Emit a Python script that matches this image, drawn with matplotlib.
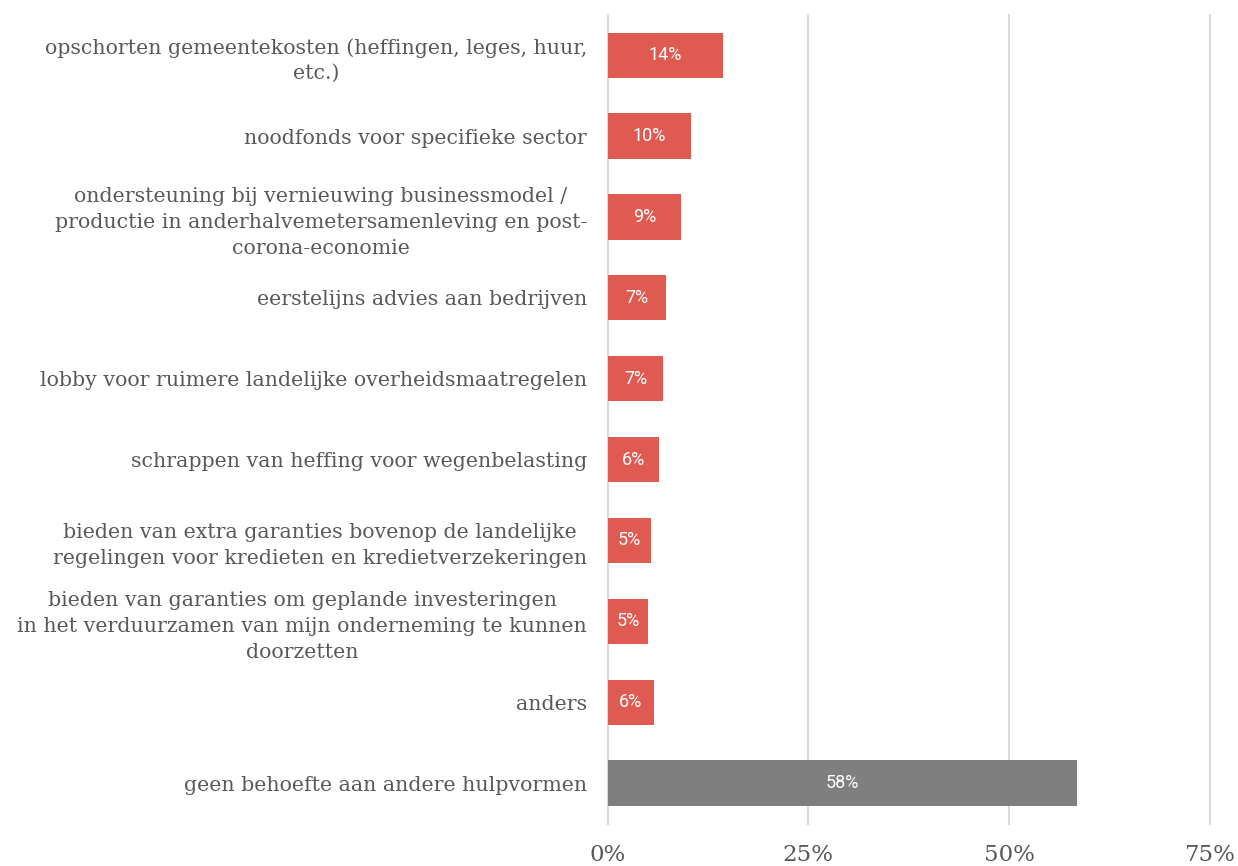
import matplotlib

matplotlib.use("Agg")
import matplotlib.pyplot as plt

categories = [
    "opschorten gemeentekosten (heffingen, leges, huur,\netc.)",
    "noodfonds voor specifieke sector",
    "ondersteuning bij vernieuwing businessmodel /\nproductie in anderhalvemetersamenleving en post-\ncorona-economie",
    "eerstelijns advies aan bedrijven",
    "lobby voor ruimere landelijke overheidsmaatregelen",
    "schrappen van heffing voor wegenbelasting",
    "bieden van extra garanties bovenop de landelijke\nregelingen voor kredieten en kredietverzekeringen",
    "bieden van garanties om geplande investeringen\nin het verduurzamen van mijn onderneming te kunnen\ndoorzetten",
    "anders",
    "geen behoefte aan andere hulpvormen",
]
values = [14.4, 10.4, 9.1, 7.2, 6.9, 6.4, 5.4, 5.0, 5.7, 58.5]
value_labels = ["14%", "10%", "9%", "7%", "7%", "6%", "5%", "5%", "6%", "58%"]
ticks = [0, 25, 50, 75]

RED = "#DF5B51"
GREY = "#7F7F7F"
TEXT = "#595959"

fig = plt.figure(figsize=(12.38, 8.66), dpi=100)
ax = fig.add_axes([0.491, 0.049, 0.486, 0.934])

colors = [RED] * (len(values) - 1) + [GREY]
positions = list(range(len(categories)))
bars = ax.barh(positions, values, height=0.56, color=colors, zorder=3)

for bar, text in zip(bars, value_labels):
    ax.text(
        bar.get_width() / 2,
        bar.get_y() + bar.get_height() / 2,
        text,
        ha="center",
        va="center",
        color="white",
        fontsize=13,
        family="Roboto",
        zorder=4,
    )

ax.set_ylim(len(categories) - 0.5, -0.5)
ax.set_xlim(0, 75)
ax.set_yticks(positions)
ax.set_yticklabels(
    categories, fontsize=14.8, family="DejaVu Serif", color=TEXT,
    multialignment="center", linespacing=1.45,
)
ax.set_xticks(ticks)
ax.set_xticklabels([f"{t}%" for t in ticks], fontsize=16.5, family="DejaVu Serif", color=TEXT)
ax.tick_params(axis="y", length=0, pad=15)
ax.tick_params(axis="x", length=0, pad=15)
ax.grid(axis="x", color="#DADADA", linewidth=1.5, zorder=0)
for line in ax.get_xgridlines():
    line.set_clip_on(False)
for spine in ax.spines.values():
    spine.set_visible(False)

fig.savefig("out.png", dpi=100)
